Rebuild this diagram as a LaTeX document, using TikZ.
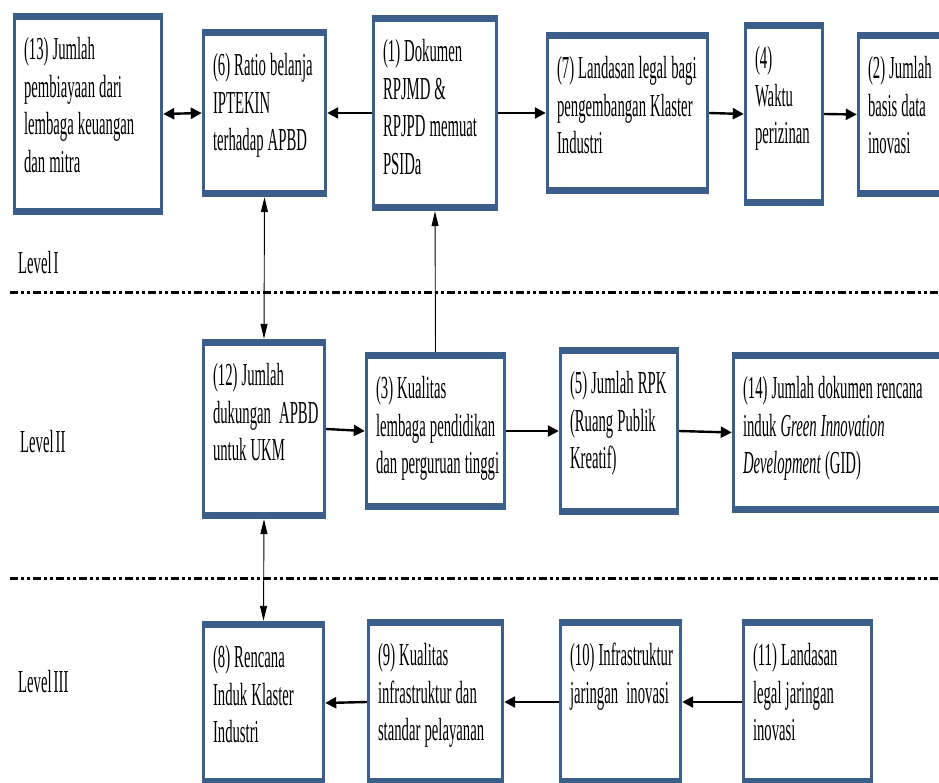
\documentclass[tikz,border=0pt]{standalone}
\usepackage{fontspec}
\setmainfont{Liberation Serif}[FakeStretch=0.46, WordSpace=1.1]
\usetikzlibrary{arrows.meta}
\definecolor{boxblue}{HTML}{3B5E8B}
\tikzset{
  pbox/.style={rectangle, inner sep=0pt, draw=none, fill=boxblue,
    path picture={\fill[white]
      ([xshift=3pt,yshift=7pt]path picture bounding box.south west) rectangle
      ([xshift=-3pt,yshift=-7pt]path picture bounding box.north east);}},
  ptext/.style={inner sep=0pt, anchor=base west, text width=400pt, align=flush left,
    font=\fontsize{32}{37.5}\selectfont},
  lvl/.style={inner sep=0pt, anchor=base west, font=\fontsize{32}{37.5}\selectfont},
  hflow/.style={line width=2.4pt, -{Triangle[length=11pt,width=11pt]}},
  hboth/.style={line width=2.4pt, {Triangle[length=11pt,width=11pt]}-{Triangle[length=11pt,width=11pt]}},
  vflow/.style={line width=0.9pt, -{Triangle[length=15pt,width=7pt]}},
  vboth/.style={line width=0.9pt, {Triangle[length=15pt,width=7pt]}-{Triangle[length=15pt,width=7pt]}},
  divider/.style={line width=3pt,
    dash pattern=on 8pt off 3pt on 3pt off 3pt on 3pt off 3pt}
}
% \pbox{name}{x1}{y1}{x2}{y2}{text}: framed box given by outer corners
\newcommand\pbox[6]{%
  \node[pbox, minimum width={(#4-#2)*1pt}, minimum height={(#5-#3)*1pt}]
    (#1) at ({(#2+#4)/2},{(#3+#5)/2}) {};
  \node[ptext] (#1-t) at ([xshift=11pt,yshift=-47pt]#1.north west) {#6};
}
\begin{document}
\begin{tikzpicture}[x=1pt,y=-1pt]
\clip (0,0) rectangle (939,783);
\fill[white] (0,0) rectangle (939,783);

% Level I
\pbox{n13}{13}{13}{163}{215}{(13) Jumlah\\pembiayaan dari\\lembaga keuangan\\dan mitra}
\pbox{n6}{202}{29}{327}{197}{(6) Ratio belanja\\IPTEKIN\\terhadap APBD}
\pbox{n1}{372}{15}{498}{211}{(1) Dokumen\\RPJMD \&\\RPJPD memuat\\PSIDa}
\pbox{n7}{546}{32}{709}{194}{(7) Landasan legal bagi\\pengembangan Klaster\\Industri}
\pbox{n4}{744}{22}{824}{206}{(4)\\Waktu\\perizinan}
\pbox{n2}{857}{32}{962}{197}{(2) Jumlah\\basis data\\inovasi}

% Level II
\pbox{n12}{202}{339}{326}{519}{(12) Jumlah\\dukungan\ \ APBD\\untuk UKM}
\pbox{n3}{365}{352}{506}{510}{(3) Kualitas\\lembaga pendidikan\\dan perguruan tinggi}
\pbox{n5}{559}{347}{679}{515}{(5) Jumlah RPK\\(Ruang Publik\\Kreatif)}
\pbox{n14}{732}{352}{962}{513}{(14) Jumlah dokumen rencana\\induk \textit{Green Innovation}\\\textit{Development} (GID)}

% Level III
\pbox{n8}{202}{621}{325}{785}{(8) Rencana\\Induk Klaster\\Industri}
\pbox{n9}{367}{619}{504}{785}{(9) Kualitas\\infrastruktur dan\\standar pelayanan}
\pbox{n10}{559}{619}{682}{785}{(10) Infrastruktur\\jaringan\ \ inovasi}
\pbox{n11}{742}{619}{873}{785}{(11) Landasan\\legal jaringan\\inovasi}

% level labels and dividers
\node[lvl] (l1) at (18,274) {Level\kern2pt I};
\node[lvl] (l2) at (20,452) {Level\kern2pt II};
\node[lvl] (l3) at (18,692) {Level\kern2pt III};
\coordinate (d1a) at (10,293);
\coordinate (d1b) at (939,293);
\coordinate (d2a) at (10,578);
\coordinate (d2b) at (939,578);
\draw[divider] (d1a) -- (d1b);
\draw[divider] (d2a) -- (d2b);

% horizontal links
\draw[hboth] (n13.east) -- (n6.west);
\draw[hflow] (n1.west) -- (n6.east);
\draw[hflow] (n1.east) -- (n7.west);
\draw[hflow] (n7.east) -- (n4.west);
\draw[hflow] (n4.east) -- (n2.west);
\draw[hflow] (n12.east) -- (n3.west);
\draw[hflow] (n3.east) -- (n5.west);
\draw[hflow] (n5.east) -- (n14.west);
\draw[hflow] (n9.west) -- (n8.east);
\draw[hflow] (n10.west) -- (n9.east);
\draw[hflow] (n11.west) -- (n10.east);

% vertical links
\draw[vboth] (n6.south) -- (n12.north);
\draw[vboth] (n12.south) -- (n8.north);
\draw[vflow] (n3.north) -- (n1.south);
\end{tikzpicture}
\end{document}
